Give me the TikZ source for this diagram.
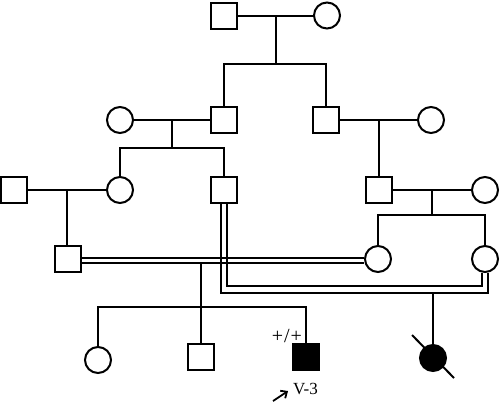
\documentclass[tikz,border=0pt]{standalone}
\usepackage{fontspec}
\setmainfont{Liberation Serif}
\usetikzlibrary{arrows.meta}
\tikzset{
  varon/.style={draw, rectangle, minimum size=26pt, inner sep=0pt},
  mujer/.style={draw, circle, minimum size=26pt, inner sep=0pt},
  afectado/.style={fill=black},
}
\begin{document}
\begin{tikzpicture}[x=1pt,y=-1pt,line width=2pt]
    \useasboundingbox (0,0) rectangle (500,402);
    % Generacion I
    \node[varon] (I1) at (224,15.5) {};
    \node[mujer] (I2) at (327,15.5) {};
    \draw (I1) -- (I2) coordinate[midway] (m0);
    % Generacion II
    \node[mujer] (II1) at (120,120) {};
    \node[varon] (II2) at (224,120) {};
    \node[varon] (II3) at (326,120) {};
    \node[mujer] (II4) at (431,120) {};
    \draw (II2.north) -- ++(0,-42) coordinate (s2) -| (II3.north);
    \draw (m0) -- (m0 |- s2);
    \draw (II1) -- (II2) coordinate[midway] (m1);
    \draw (II3) -- (II4) coordinate[midway] (m2);
    % Generacion III
    \node[varon] (III1) at (14,190) {};
    \node[mujer] (III2) at (120,190) {};
    \node[varon] (III3) at (224,190) {};
    \node[varon] (III4) at (379,190) {};
    \node[mujer] (III5) at (485,190) {};
    \draw (III2.north) -- ++(0,-28) coordinate (s3) -| (III3.north);
    \draw (m1) -- (m1 |- s3);
    \draw (m2) -- (m2 |- III4.north);
    \draw (III1) -- (III2) coordinate[midway] (m3);
    \draw (III4) -- (III5) coordinate[midway] (m4);
    % Generacion IV
    \node[varon] (IV1) at (68,259) {};
    \node[mujer] (IV2) at (378,259) {};
    \node[mujer] (IV3) at (485,259) {};
    \draw (m3) -- (m3 |- IV1.north);
    \draw (IV2.north) -- ++(0,-30) coordinate (s4) -| (IV3.north);
    \draw (m4) -- (m4 |- s4);
    % uniones consanguineas
    \draw ([yshift=0.6pt]IV1.east) -- ([yshift=0.6pt]IV2.west);
    \draw ([yshift=-3.8pt]IV1.east) coordinate (low) -- ([yshift=-3.8pt]IV2.west);
    \draw ([xshift=2.9pt]III3.south) -- ++(0,81.5) -| ([xshift=-3pt]IV3.south);
    \draw ([xshift=-2.9pt]III3.south) -- ++(0,88.5) coordinate (o2) -| ([xshift=3pt]IV3.south);
    % Generacion V
    \node[mujer] (V1) at (98,360) {};
    \node[varon] (V2) at (201,357) {};
    \node[varon, afectado] (V3) at (306,357) {};
    \node[mujer, afectado] (V4) at (433,358) {};
    \draw (V1.north) -- ++(0,-39) -| (V3.north);
    \draw (V2 |- low) -- (V2.north);
    \draw (o2 -| V4) -- (V4);
    \draw ([shift={(-21,-23)}]V4.center) -- ([shift={(21,20)}]V4.center);
    % probando
    \node[anchor=base east, inner sep=0pt, font=\fontsize{20}{22}\selectfont] (gen) at (303,342) {+\kern1pt/\kern1pt+};
    \node[anchor=base west, inner sep=0pt, font=\fontsize{17}{19}\selectfont] (prob) at (292,394) {V-3};
    \draw[-{Straight Barb[length=5pt,width=9pt]}, line width=1.8pt] ([shift={(-33,44)}]V3.center) -- ++(15,-10);
\end{tikzpicture}
\end{document}
